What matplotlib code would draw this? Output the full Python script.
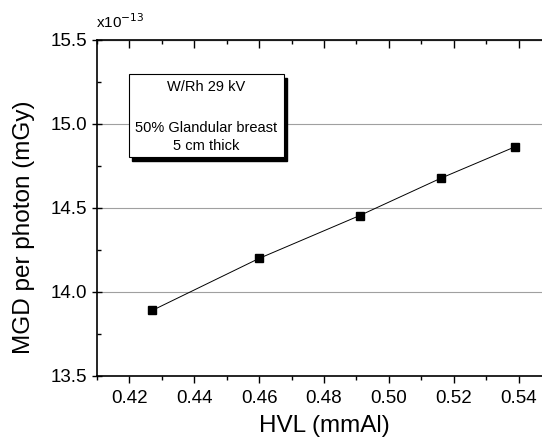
import matplotlib
matplotlib.use('Agg')
import matplotlib.pyplot as plt
from matplotlib.ticker import MultipleLocator, FormatStrFormatter
from matplotlib.patches import Rectangle

hvl = [0.427, 0.460, 0.491, 0.516, 0.539]
mgd = [13.89, 14.20, 14.455, 14.677, 14.865]   # x 1e-13 mGy

plt.rcParams['font.family'] = ['Liberation Sans', 'DejaVu Sans']

fig = plt.figure(figsize=(5.42, 4.41), dpi=100)
ax = fig.add_axes([97 / 542, 1 - 376 / 441, (551 - 97) / 542, (376 - 40) / 441])

ax.plot(hvl, mgd, color='black', lw=0.7, marker='s', ms=5.5, mfc='black', mec='black', zorder=3)

ax.set_xlim(0.41, 0.55)
ax.set_ylim(13.5, 15.5)
ax.xaxis.set_major_locator(MultipleLocator(0.02))
ax.xaxis.set_minor_locator(MultipleLocator(0.01))
ax.yaxis.set_major_locator(MultipleLocator(0.5))
ax.yaxis.set_minor_locator(MultipleLocator(0.25))
ax.xaxis.set_major_formatter(FormatStrFormatter('%.2f'))
ax.yaxis.set_major_formatter(FormatStrFormatter('%.1f'))

ax.grid(axis='y', which='major', color='#a0a0a0', lw=0.8)
ax.set_axisbelow(True)

ax.tick_params(axis='x', which='major', direction='out', length=5, width=1, labelsize=13.5, top=False, pad=5)
ax.tick_params(axis='x', which='minor', direction='out', length=3, width=1, top=False)
ax.tick_params(axis='y', which='major', direction='inout', length=7, width=1, labelsize=13.5)
ax.tick_params(axis='y', which='minor', direction='in', length=3, width=1)

# top ticks pointing inward
top = ax.secondary_xaxis('top')
top.xaxis.set_major_locator(MultipleLocator(0.02))
top.xaxis.set_minor_locator(MultipleLocator(0.01))
top.tick_params(which='major', direction='in', length=6, width=1, labeltop=False)
top.tick_params(which='minor', direction='in', length=3, width=1)

for s in ax.spines.values():
    s.set_linewidth(1.2)

ax.set_xlabel('HVL (mmAl)', fontsize=17.5, labelpad=6)
ax.set_ylabel('MGD per photon (mGy)', fontsize=17.5)
ax.yaxis.set_label_coords(-0.137, 0.443)

fig.text(96 / 542, 1 - 22 / 441, r'x10$^{-13}$', fontsize=11, ha='left', va='center')

# annotation box with shadow
bx0, by0, bw, bh = 129 / 542, 1 - 157 / 441, (284 - 129) / 542, (157 - 74) / 441
fig.patches.append(Rectangle((bx0 + 3 / 542, by0 - 4 / 441), bw, bh, transform=fig.transFigure,
                             facecolor='black', edgecolor='black', zorder=4))
fig.patches.append(Rectangle((bx0, by0), bw, bh, transform=fig.transFigure,
                             facecolor='white', edgecolor='black', lw=0.8, zorder=5))
cx = bx0 + bw / 2
fig.text(cx, 1 - 87 / 441, 'W/Rh 29 kV', fontsize=10.5, ha='center', va='center', zorder=6)
fig.text(cx, 1 - 128 / 441, '50% Glandular breast', fontsize=10.5, ha='center', va='center', zorder=6)
fig.text(cx, 1 - 146 / 441, '5 cm thick', fontsize=10.5, ha='center', va='center', zorder=6)

fig.savefig('out.png', dpi=100)
